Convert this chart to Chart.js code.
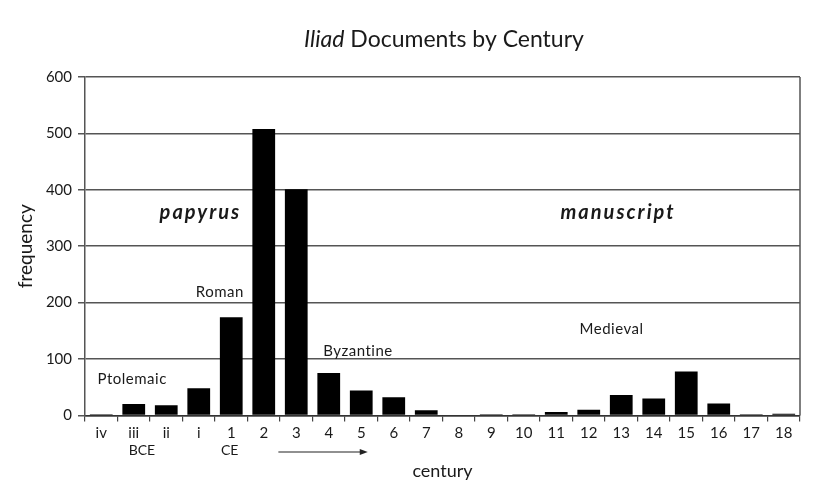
<!DOCTYPE html>
<html>
<head>
<meta charset="utf-8">
<script src="https://cdn.jsdelivr.net/npm/chart.js@4/dist/chart.umd.min.js"></script>
<style>
  html, body { margin: 0; padding: 0; background: #fff; }
  #wrap { width: 835px; height: 500px; }
</style>
</head>
<body>
<div id="wrap"><canvas id="iliadChart" width="835" height="500"></canvas></div>
<script>
// centuries, BCE (roman numerals) then CE
const categories = ['iv', 'iii', 'ii', 'i', '1', '2', '3', '4', '5', '6', '7', '8', '9',
    '10', '11', '12', '13', '14', '15', '16', '17', '18'];
const frequency = [2, 20, 18, 48, 174, 508, 401, 75, 44, 32, 9, 0, 2, 2, 6, 10, 36, 30, 78, 21, 2, 3];
const yTicks = [0, 100, 200, 300, 400, 500, 600];

// labels written on the plot, placed in data units (category index, frequency)
const notes = [
    { text: 'papyrus', x: 3.05, y: 360, font: 'italic bold 20px Lato', spacing: '2px' },
    { text: 'manuscript', x: 15.9, y: 360, font: 'italic bold 20px Lato', spacing: '2px' },
    { text: 'Roman', x: 3.65, y: 218, font: '15px Lato', spacing: '0.5px' },
    { text: 'Ptolemaic', x: 0.95, y: 64, font: '15px Lato', spacing: '0.5px' },
    { text: 'Byzantine', x: 7.9, y: 114, font: '15px Lato', spacing: '0.5px' },
    { text: 'Medieval', x: 15.7, y: 153, font: '15px Lato', spacing: '0.5px' }
];

const textColor = '#1a1a1a';

const extras = {
    id: 'extras',
    afterDraw(chart) {
        const ctx = chart.ctx;
        const x = chart.scales.x, y = chart.scales.y;
        const area = chart.chartArea;
        ctx.save();

        // right frame line
        ctx.strokeStyle = '#555';
        ctx.lineWidth = 1.5;
        ctx.beginPath();
        ctx.moveTo(area.right, area.top);
        ctx.lineTo(area.right, area.bottom);
        ctx.stroke();

        // title with italic Iliad
        ctx.fillStyle = textColor;
        ctx.textBaseline = 'middle';
        ctx.font = 'italic 23px Lato';
        const a = 'Iliad';
        const b = ' Documents by Century';
        const wa = ctx.measureText(a).width;
        ctx.font = '23px Lato';
        const wb = ctx.measureText(b).width;
        const cx = 444;
        let sx = cx - (wa + wb) / 2;
        ctx.textAlign = 'left';
        ctx.font = 'italic 23px Lato';
        ctx.fillText(a, sx, 40);
        ctx.font = '23px Lato';
        ctx.fillText(b, sx + wa, 40);

        // notes on the plot
        ctx.textAlign = 'center';
        notes.forEach(n => {
            ctx.font = n.font;
            ctx.letterSpacing = n.spacing;
            ctx.fillText(n.text, x.getPixelForValue(n.x), y.getPixelForValue(n.y));
        });
        ctx.letterSpacing = '0px';

        // BCE / CE and arrow under the axis
        ctx.font = '14px Lato';
        ctx.fillText('BCE', x.getPixelForValue(1.25), 450);
        ctx.fillText('CE', x.getPixelForValue(3.95), 450);
        const x0 = x.getPixelForValue(5.45), x1 = x.getPixelForValue(8.2);
        ctx.strokeStyle = '#222';
        ctx.lineWidth = 1.2;
        ctx.beginPath();
        ctx.moveTo(x0, 452);
        ctx.lineTo(x1 - 6, 452);
        ctx.stroke();
        ctx.fillStyle = '#222';
        ctx.beginPath();
        ctx.moveTo(x1, 452);
        ctx.lineTo(x1 - 8, 449);
        ctx.lineTo(x1 - 8, 455);
        ctx.closePath();
        ctx.fill();
        ctx.restore();
    }
};

new Chart(document.getElementById('iliadChart'), {
    type: 'bar',
    data: {
        labels: categories,
        datasets: [{
            data: frequency,
            backgroundColor: '#000',
            borderWidth: 0,
            barPercentage: 0.7,
            categoryPercentage: 1.0
        }]
    },
    options: {
        responsive: false,
        animation: false,
        layout: { padding: { top: 77, right: 35, left: 14, bottom: 18 } },
        plugins: {
            legend: { display: false },
            tooltip: { enabled: false },
            title: { display: false }
        },
        scales: {
            x: {
                grid: {
                    offset: true,
                    drawOnChartArea: false,
                    tickLength: 6,
                    color: '#444',
                    lineWidth: 1.2
                },
                border: { color: '#333', width: 1.5 },
                ticks: {
                    color: textColor,
                    font: { family: 'Lato', size: 15 },
                    maxRotation: 0,
                    autoSkip: false,
                    padding: 3
                },
                title: {
                    display: true,
                    text: 'century',
                    color: textColor,
                    font: { family: 'Lato', size: 18 },
                    padding: { top: 15, bottom: 0 }
                }
            },
            y: {
                min: 0,
                max: 600,
                afterBuildTicks: s => { s.ticks = yTicks.map(v => ({ value: v })); },
                afterFit: s => { s.width = 71; },
                grid: {
                    color: '#555',
                    lineWidth: 1.5,
                    tickLength: 7
                },
                border: { color: '#555', width: 1.5 },
                ticks: {
                    color: textColor,
                    font: { family: 'Lato', size: 15 },
                    padding: 6
                },
                title: {
                    display: true,
                    text: 'frequency',
                    color: textColor,
                    font: { family: 'Lato', size: 19 },
                    padding: 0
                }
            }
        }
    },
    plugins: [extras]
});
</script>
</body>
</html>
